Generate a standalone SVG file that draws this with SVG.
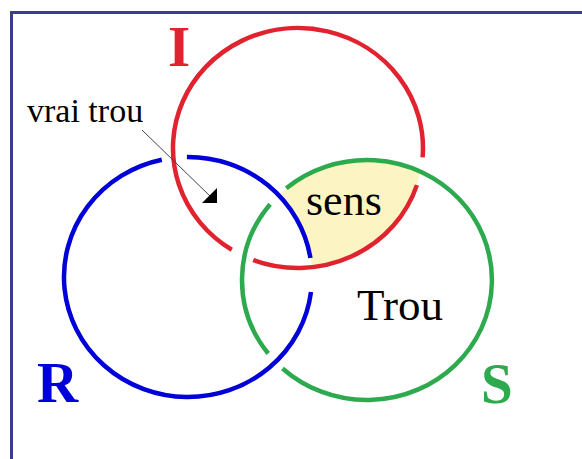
<svg xmlns="http://www.w3.org/2000/svg" width="582" height="459" viewBox="0 0 582 459">
<style>
.ring{fill:none;stroke-width:4.5;stroke-linecap:butt}
.r{stroke:#e0232e}
.b{stroke:#0000d8}
.g{stroke:#2eaa4e}
.lbl{font-family:"Liberation Serif","Times New Roman",serif;fill:#000}
.big{font-family:"Liberation Serif","Times New Roman",serif;font-weight:bold;font-size:57px}
</style>
<defs>
<clipPath id="clipRed"><ellipse cx="298" cy="148" rx="125" ry="120"/></clipPath>
</defs>
<rect x="0" y="0" width="582" height="459" fill="#fff"/>
<rect x="11.5" y="12.5" width="620" height="500" fill="none" stroke="#3d3d8f" stroke-width="3"/>
<g id="sens-region" clip-path="url(#clipRed)">
<ellipse cx="367" cy="280" rx="125" ry="120" fill="#fcf5c3"/>
<ellipse cx="188" cy="277" rx="124" ry="120" fill="#fff"/>
</g>
<g id="ring-I">
<path class="ring r" d="M 416.9 185.1 A 125 120 0 0 1 253.2 260.0"/>
<path class="ring r" d="M 231.8 249.8 A 125 120 0 1 1 422.6 157.4"/>
<text class="big" x="168" y="66" fill="#e0232e">I</text>
</g>
<g id="ring-R">
<path class="ring b" d="M 311.0 292.0 A 124 120 0 1 1 161.8 159.7"/>
<path class="ring b" d="M 186.9 157.0 A 124 120 0 0 1 310.4 258.0"/>
<text class="big" x="37" y="402" fill="#0000d8">R</text>
</g>
<g id="ring-S">
<path class="ring g" d="M 286.3 188.3 A 125 120 0 1 1 282.5 368.5"/>
<path class="ring g" d="M 268.2 353.5 A 125 120 0 0 1 270.1 204.2"/>
<text class="big" x="481" y="403" fill="#2eaa4e">S</text>
</g>
<g id="label-sens"><text class="lbl" x="306" y="215" font-size="44">sens</text></g>
<g id="label-trou"><text class="lbl" x="357" y="320" font-size="45">Trou</text></g>
<g id="label-vrai-trou"><text class="lbl" x="27" y="122" font-size="34">vrai trou</text></g>
<g id="connectors">
<line x1="142" y1="130" x2="210" y2="196" stroke="#444" stroke-width="1"/>
<polygon points="202,203 217,188 217,203" fill="#000"/>
</g>
</svg>
